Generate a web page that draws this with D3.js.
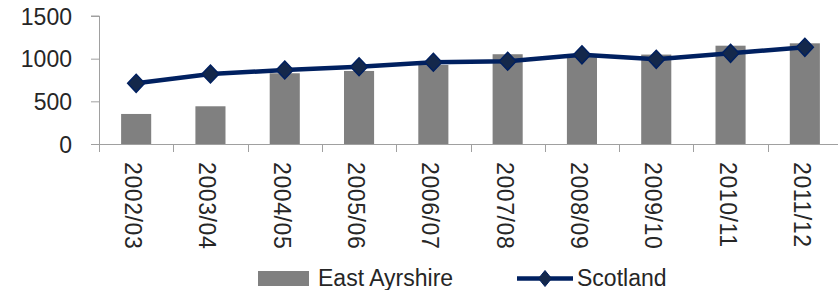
<!DOCTYPE html>
<html><head><meta charset="utf-8">
<script src="https://cdn.jsdelivr.net/npm/d3@7"></script>
<style>body{margin:0;background:#fff}svg{display:block}</style>
</head><body>
<script>
const categories = ["2002/03","2003/04","2004/05","2005/06","2006/07","2007/08","2008/09","2009/10","2010/11","2011/12"];
const eastAyrshire = [352, 442, 829, 856, 926, 1052, 1050, 1048, 1152, 1180];
const scotland = [711, 820, 867, 905, 958, 970, 1045, 992, 1063, 1133];
const yTicks = [0, 500, 1000, 1500];
const seriesNames = ["East Ayrshire", "Scotland"];

const W = 838, H = 290;
const FONT = "'Liberation Sans', Arial, sans-serif";
const TXT = "#262626";
const AX = "#a0a0a0";
const BAR = "#808080";
const LINE = "#002060";
const MK = "#14284b";

const svg = d3.select("body").append("svg").attr("width", W).attr("height", H);

const x = d3.scaleBand().domain(categories).range([99, 842]).paddingInner(0.595).paddingOuter(0.2975);
const xc = d3.scaleBand().domain(categories).range([99, 842]);
const y = d3.scaleLinear().domain([0, 1500]).range([144, 16]);

// bars
svg.append("g").selectAll("rect").data(eastAyrshire).join("rect")
  .attr("x", (d,i) => x(categories[i]))
  .attr("width", x.bandwidth())
  .attr("y", d => y(d))
  .attr("height", d => y(0) - y(d))
  .attr("fill", BAR);

// axes
const yAxis = svg.append("g").attr("transform", "translate(99,0)")
  .call(d3.axisLeft(y).tickValues(yTicks).tickSize(8).tickPadding(19).tickFormat(d3.format("d")));
yAxis.select(".domain").attr("stroke", AX).attr("d", `M-8,${y(1500)}H0.5V${y(0)}`);
yAxis.selectAll(".tick line").attr("stroke", AX);
yAxis.selectAll("text").attr("font-family", FONT).attr("font-size", 23).attr("fill", TXT).attr("dy", "0.36em");

const xg = svg.append("g");
xg.append("line").attr("x1", 99).attr("x2", 842).attr("y1", y(0) + 0.5).attr("y2", y(0) + 0.5).attr("stroke", AX);
const bounds = categories.map(c => xc(c)).concat([xc(categories[categories.length-1]) + xc.bandwidth()]);
xg.selectAll("line.tk").data(bounds).join("line").attr("class", "tk")
  .attr("x1", d => Math.round(d) + 0.5).attr("x2", d => Math.round(d) + 0.5)
  .attr("y1", y(0)).attr("y2", y(0) + 8).attr("stroke", AX);
xg.selectAll("text").data(categories).join("text")
  .attr("transform", d => `translate(${xc(d) + xc.bandwidth()/2 - 11},162) rotate(90)`)
  .attr("font-family", FONT).attr("font-size", 23).attr("fill", TXT)
  .attr("letter-spacing", 0.6)
  .text(d => d);

// line
const line = d3.line().x((d,i) => xc(categories[i]) + xc.bandwidth()/2).y(d => y(d));
svg.append("path").datum(scotland).attr("d", line)
  .attr("fill", "none").attr("stroke", LINE).attr("stroke-width", 4.5).attr("stroke-linejoin", "round");

function diamond(cx, cy, hw, hh) {
  return `M${cx},${cy-hh}L${cx+hw},${cy}L${cx},${cy+hh}L${cx-hw},${cy}Z`;
}
svg.append("g").selectAll("path").data(scotland).join("path")
  .attr("d", (d,i) => diamond(xc(categories[i]) + xc.bandwidth()/2, y(d), 8.5, 9))
  .attr("fill", MK).attr("stroke", LINE).attr("stroke-width", 1.5);

// legend
const lg = svg.append("g");
lg.append("rect").attr("x", 258).attr("y", 271).attr("width", 51).attr("height", 15).attr("fill", BAR);
lg.append("text").attr("x", 318).attr("y", 286).attr("font-family", FONT).attr("font-size", 23).attr("fill", TXT).text(seriesNames[0]);
lg.append("line").attr("x1", 517).attr("x2", 573).attr("y1", 278.5).attr("y2", 278.5).attr("stroke", LINE).attr("stroke-width", 4.5);
lg.append("path").attr("d", diamond(545, 278.5, 6.5, 8)).attr("fill", MK).attr("stroke", LINE).attr("stroke-width", 1);
lg.append("text").attr("x", 577).attr("y", 286).attr("font-family", FONT).attr("font-size", 23).attr("fill", TXT).text(seriesNames[1]);
</script>
</body></html>
